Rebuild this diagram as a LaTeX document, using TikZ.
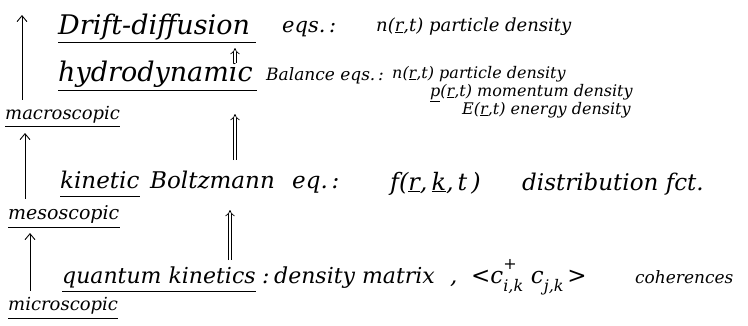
\documentclass[tikz,border=0pt]{standalone}
\usepackage{fontspec}
\setmainfont{DejaVu Serif}
\usetikzlibrary{arrows.meta}
\newcommand{\fs}[1]{\fontsize{#1}{#1}\selectfont\itshape}
\newcommand{\vu}[1]{\underline{#1}}
\newcommand{\supsub}[2]{\makebox[0pt][l]{\raisebox{0.6em}{\fontsize{16}{16}\selectfont #1}}\raisebox{-0.35em}{\fontsize{16}{16}\selectfont #2}}
\begin{document}
\begin{tikzpicture}[x=1pt,y=-1pt,
  txt/.style={anchor=base west, inner sep=0pt},
  uline/.style={line width=0.9pt},
  lvlarrow/.style={line width=0.9pt, -{Straight Barb[length=6pt,width=10pt]}},
  dblarrow/.style={line width=0.7pt, double distance=2.6pt, -{Implies[]}}
]
\useasboundingbox (0,0) rectangle (748,325);

% level labels
\node[txt, font=\fs{18}] (macro) at (5,119) {macroscopic};
\node[txt, font=\fs{19}] (meso)  at (8,219) {mesoscopic};
\node[txt, font=\fs{18}] (micro) at (8,310) {microscopic};
\draw[uline] ([yshift=-7pt]macro.base west) -- ([yshift=-7pt]macro.base east);
\draw[uline] ([yshift=-8pt]meso.base west) -- ([yshift=-8pt]meso.base east);
\draw[uline] ([yshift=-8pt]micro.base west) -- ([yshift=-8pt]micro.base east);

\coordinate (a1) at (22,15);
\coordinate (a2) at (25,133);
\coordinate (a3) at (30,233);
\draw[lvlarrow] ([yshift=6pt]macro.north -| a1) -- (a1);
\draw[lvlarrow] ([yshift=6pt]meso.north -| a2) -- (a2);
\draw[lvlarrow] ([yshift=6pt]micro.north -| a3) -- (a3);

% row 1
\node[txt, font=\fs{27}] (drift) at (58,34) {Drift-diffusion};
\node[txt, font=\fs{21}] (eqs1) at (282,32) {eqs.\,:};
\node[txt, font=\fs{18}] (n1) at (376,31) {n(\vu{r},t) particle density};
\draw[uline] ([yshift=-8pt]drift.base west) -- ([yshift=-8pt,xshift=6pt]drift.base east);

% row 2
\node[txt, font=\fs{27}] (hydro) at (58,81) {hydrodynamic};
\node[txt, font=\fs{17}] (bal) at (266,80) {Balance eqs.\,:};
\node[txt, font=\fs{16}] (n2) at (392,78) {n(\vu{r},t) particle density};
\node[txt, font=\fs{16}] (p2) at (430,96) {\vu{p}(\vu{r},t) momentum density};
\node[txt, font=\fs{16}] (E2) at (462,114) {E(\vu{r},t) energy density};
\draw[uline] ([yshift=-9pt]hydro.base west) -- ([yshift=-9pt,xshift=4pt]hydro.base east);

% row 3
\node[txt, font=\fs{23}] (kin) at (60,188) {kinetic};
\node[txt, font=\fs{23}] (boltz) at (150,188) {Boltzmann};
\node[txt, font=\fs{23}] (eq3) at (292,188) {eq.\,:};
\node[txt, font=\fs{24}] (f3) at (390,190) {f(\vu{r},\,\vu{k},\,t\,)};
\node[txt, font=\fs{23}] (dist) at (522,190) {distribution fct.};
\draw[uline] ([yshift=-8pt]kin.base west) -- ([yshift=-8pt]kin.base east);

% row 4
\node[txt, font=\fs{22}] (qk) at (62,283) {quantum kinetics};
\node[txt, font=\fs{22}] (colon) at (262,283) {:};
\node[txt, font=\fs{22}] (dm) at (274,283) {density matrix};
\node[txt, font=\fs{23}] (coh) at (450,283) {,\; <c\supsub{+}{i,k}\,\,c\supsub{}{j,k}\,>};
\node[txt, font=\fs{17}] (cohw) at (635,283) {coherences};
\draw[uline] ([yshift=-8pt]qk.base west) -- ([yshift=-8pt]qk.base east);

% double arrows
\coordinate (d1b) at (235,63);  \coordinate (d1t) at (235,48);
\coordinate (d2b) at (235,160); \coordinate (d2t) at (235,114);
\coordinate (d3b) at (230,260); \coordinate (d3t) at (230,210);
\draw[dblarrow] (d1b) -- (d1t);
\draw[dblarrow] (d2b) -- (d2t);
\draw[dblarrow] (d3b) -- (d3t);
\end{tikzpicture}
\end{document}
